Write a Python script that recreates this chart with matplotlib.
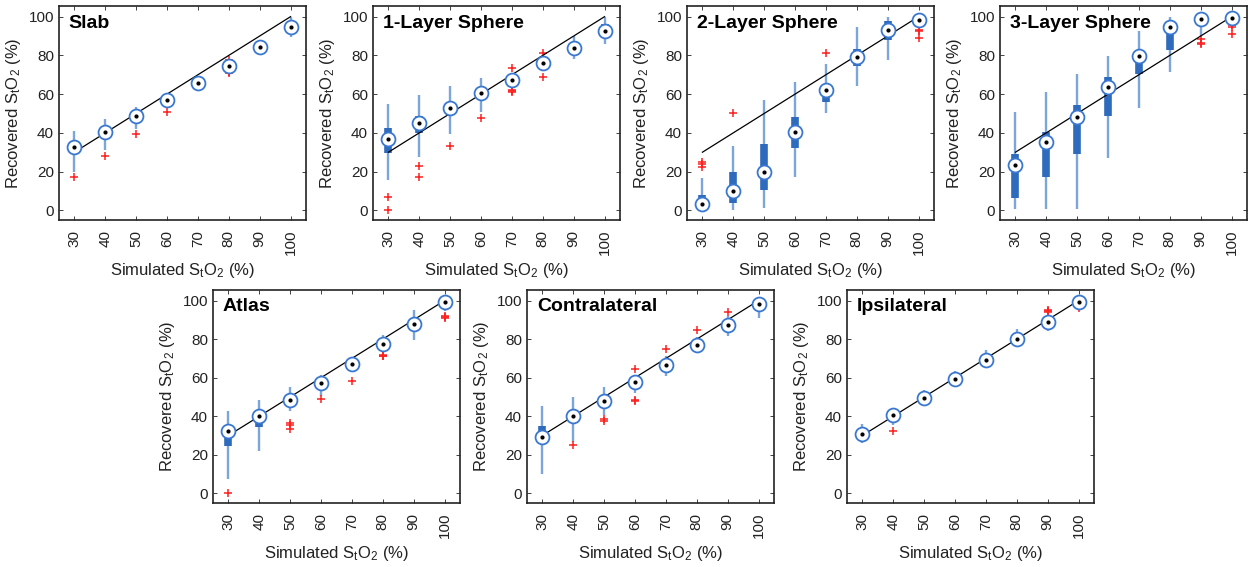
import matplotlib.pyplot as plt

plt.rcParams['font.family'] = ['Liberation Sans', 'DejaVu Sans']
plt.rcParams['mathtext.default'] = 'regular'

sim = [30, 40, 50, 60, 70, 80, 90, 100]

titles = ['Slab', '1-Layer Sphere', '2-Layer Sphere', '3-Layer Sphere',
          'Atlas', 'Contralateral', 'Ipsilateral']

# median, box (q1, q3), whiskers (lo, hi) and outliers for each model
slab_med = [32.5, 40.5, 48.5, 57, 66, 74.5, 84.5, 94.5]
slab_q1 = [30, 39, 47, 56, 65, 73.5, 83.5, 93.5]
slab_q3 = [35.5, 41.5, 50, 58, 67, 75.5, 85.5, 95.5]
slab_lo = [20, 31, 42, 55.5, 62.5, 73, 80.5, 89.5]
slab_hi = [41, 47, 53.5, 58.5, 67, 76, 88, 100]
slab_out = [[17], [28], [39.5], [51], [], [77.5, 72, 71.5, 71], [], []]

one_med = [37, 45, 53, 60.5, 67.5, 76, 84, 92.5]
one_q1 = [29.5, 40, 49, 58, 66, 75, 83, 92]
one_q3 = [42.5, 48.5, 55.5, 61.5, 69, 77, 85, 96]
one_lo = [15.5, 27.5, 39.5, 51, 63, 72.5, 78, 86]
one_hi = [55, 59.5, 64, 68.5, 71, 79.5, 90, 100]
one_out = [[7, 0], [23, 17], [33], [47.5], [73.5, 62, 61.5, 61], [81, 69], [], []]

two_med = [3.5, 10, 20, 40.5, 62, 79, 93, 98.5]
two_q1 = [1, 4, 10.5, 32, 56, 74.5, 88, 98]
two_q3 = [8, 20, 34.5, 48, 65, 83.5, 98, 100]
two_lo = [0, 0, 1, 17, 50, 64, 77.5, 98]
two_hi = [16.5, 33, 57, 66.5, 75.5, 94.5, 100, 100]
two_out = [[25, 24, 22.5], [50], [], [], [81], [], [], [93, 92.5, 89]]

three_med = [23.5, 35.5, 48, 63.5, 79.5, 94.5, 99, 99.5]
three_q1 = [6.5, 17, 29, 48.5, 70.5, 83, 96.5, 99]
three_q3 = [29, 40.5, 54.5, 69, 82.5, 97, 100, 100]
three_lo = [0.5, 0.5, 0.5, 27, 53, 71.5, 90, 99]
three_hi = [51, 61, 70.5, 79.5, 92.5, 100, 100, 100]
three_out = [[], [], [], [], [], [], [88.5, 86.5, 86], [95.5, 94.5, 91]]

atlas_med = [32.5, 40, 48.5, 57, 67, 77.5, 88, 99]
atlas_q1 = [24.5, 34.5, 46.5, 55.5, 66, 76.5, 86, 98.5]
atlas_q3 = [35.5, 40.5, 49.5, 58.5, 68, 78.5, 90, 99.5]
atlas_lo = [7.5, 22, 42.5, 50.5, 63, 74, 79.5, 94.5]
atlas_hi = [42.5, 48.5, 55, 61.5, 70, 82, 95, 100]
atlas_out = [[0], [], [36.5, 35.5, 33.5], [49], [58.5], [72, 71.5, 71], [], [92, 91.5, 91]]

contra_med = [29, 40, 48, 57.5, 66.5, 77, 87.5, 98]
contra_q1 = [26, 37.5, 47, 56, 65.5, 76.5, 86.5, 97.5]
contra_q3 = [35, 42.5, 50, 59, 68, 78.5, 88.5, 98.5]
contra_lo = [10, 26.5, 40.5, 52, 61, 73.5, 81.5, 91]
contra_hi = [45.5, 50, 55, 61.5, 71, 81, 92, 99]
contra_out = [[], [25], [38.5, 37.5], [64.5, 48.5, 48], [75], [84.5], [94], []]

ipsi_med = [31, 40.5, 49.5, 59.5, 69, 80, 89, 99.5]
ipsi_q1 = [30, 39, 48.5, 58.5, 68, 79, 87.5, 99]
ipsi_q3 = [32, 42, 51, 60.5, 70, 81, 90, 100]
ipsi_lo = [26, 35.5, 46, 56, 65, 76, 84, 97]
ipsi_hi = [36, 44.5, 53.5, 63.5, 74.5, 85.5, 92.5, 100]
ipsi_out = [[], [32.5], [], [], [], [], [95, 94.5, 94], [96]]

panels = [
    (slab_med, slab_q1, slab_q3, slab_lo, slab_hi, slab_out),
    (one_med, one_q1, one_q3, one_lo, one_hi, one_out),
    (two_med, two_q1, two_q3, two_lo, two_hi, two_out),
    (three_med, three_q1, three_q3, three_lo, three_hi, three_out),
    (atlas_med, atlas_q1, atlas_q3, atlas_lo, atlas_hi, atlas_out),
    (contra_med, contra_q1, contra_q3, contra_lo, contra_hi, contra_out),
    (ipsi_med, ipsi_q1, ipsi_q3, ipsi_lo, ipsi_hi, ipsi_out),
]

# axes rectangles [left, bottom, width, height]
rects = [
    [0.0471, 0.612, 0.1973, 0.3774],
    [0.2979, 0.612, 0.1973, 0.3774],
    [0.5487, 0.612, 0.1973, 0.3774],
    [0.7987, 0.612, 0.1973, 0.3774],
    [0.1701, 0.1129, 0.1973, 0.3757],
    [0.4209, 0.1129, 0.1973, 0.3757],
    [0.6765, 0.1129, 0.1973, 0.3757],
]

box_col = '#2e6bbd'
whisk_col = '#7ba6dc'
circ_col = '#3a78d0'

fig = plt.figure(figsize=(12.52, 5.67), dpi=100)

for title, rect, (med, q1, q3, lo, hi, out) in zip(titles, rects, panels):
    ax = fig.add_axes(rect)
    pos = list(range(1, len(sim) + 1))

    ax.vlines(pos, lo, hi, color=whisk_col, lw=1.7, zorder=2)
    ax.vlines(pos, q1, q3, color=box_col, lw=5.5, zorder=3)

    for p, vals in zip(pos, out):
        ax.plot([p] * len(vals), vals, '+', color='#ff2020', ms=6, mew=1.1, zorder=4)

    # identity line
    ax.plot(pos, sim, color='black', lw=0.9, zorder=5)

    ax.plot(pos, med, 'o', ms=10, mfc='white', mec=circ_col, mew=1.3, zorder=6)
    ax.plot(pos, med, 'o', ms=2, color='black', zorder=7)

    ax.set_xlim(0.5, 8.5)
    ax.set_ylim(-5, 105.5)
    ax.set_xticks(pos)
    ax.set_xticklabels([str(s) for s in sim], rotation=90)
    ax.set_yticks([0, 20, 40, 60, 80, 100])
    ax.tick_params(direction='in', length=3, labelsize=11, colors='#222222',
                   top=True, right=True, width=0.6)
    ax.tick_params(axis='x', pad=7)
    for sp in ax.spines.values():
        sp.set_linewidth(1.2)
        sp.set_color('#222222')
    ax.set_xlabel('Simulated S$_t$O$_2$ (%)', fontsize=12, color='#222222')
    ax.set_ylabel('Recovered S$_t$O$_2$ (%)', fontsize=12, color='#222222')
    ax.text(0.04, 0.96, title, transform=ax.transAxes, ha='left', va='top',
            fontsize=14, fontweight='bold')

fig.savefig('out.png', dpi=100)
